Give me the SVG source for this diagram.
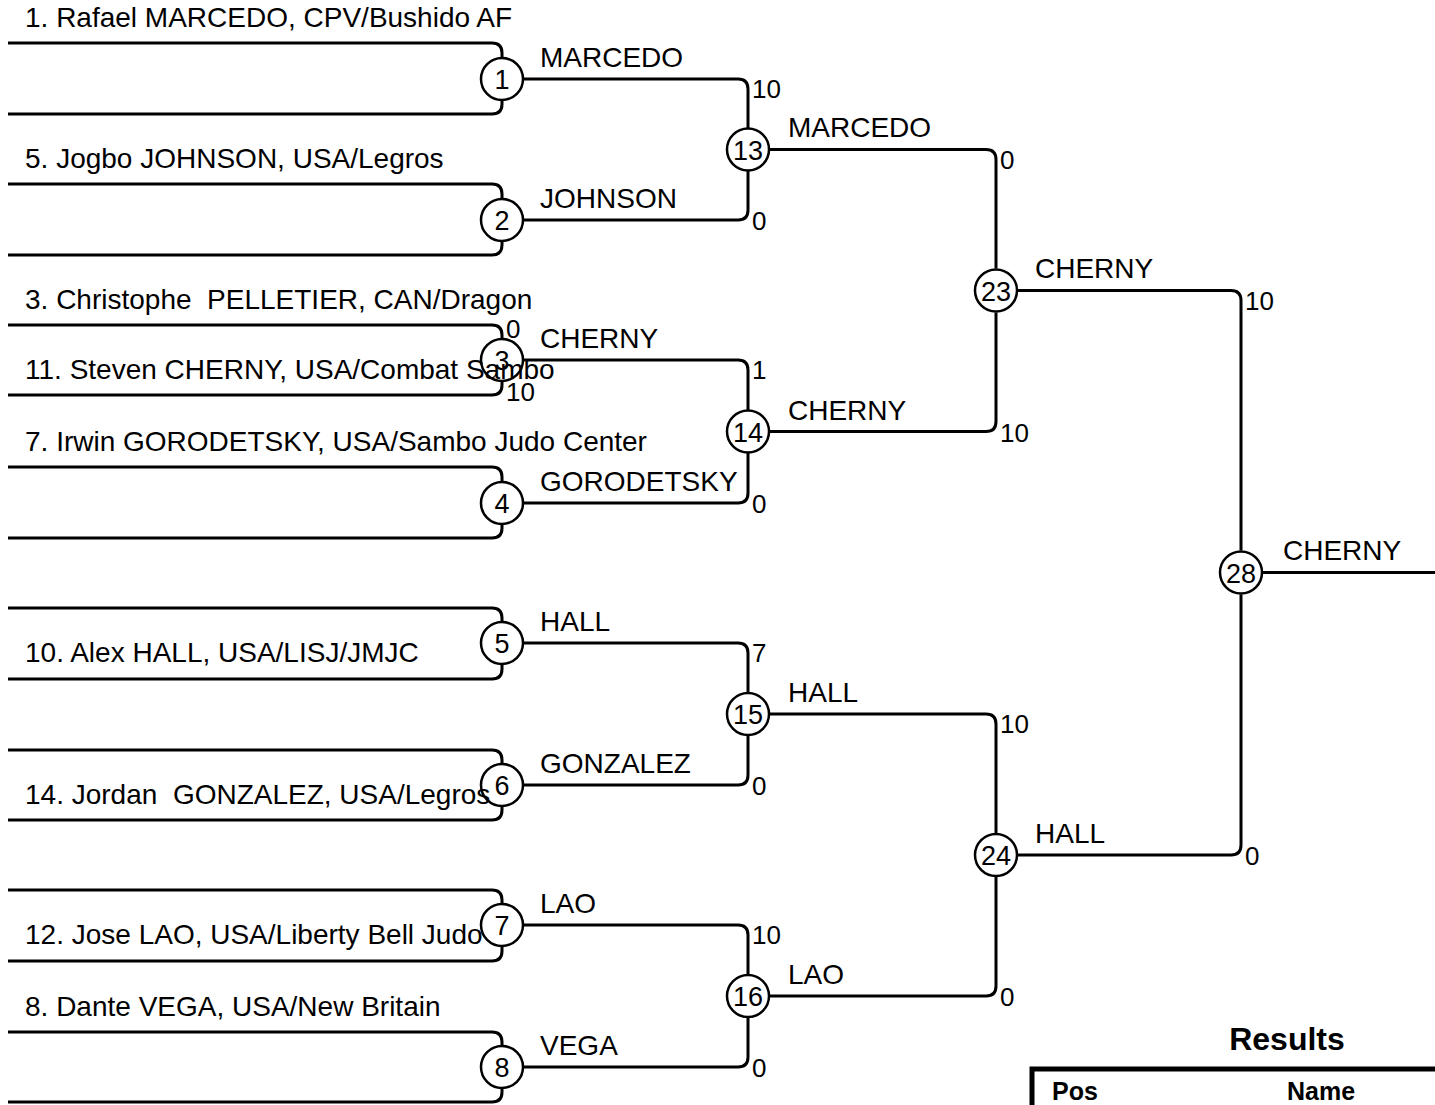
<svg xmlns="http://www.w3.org/2000/svg" width="1435" height="1105" viewBox="0 0 1435 1105">
<style>
text{font-family:"Liberation Sans",Arial,sans-serif;fill:#000;white-space:pre}
.nm{font-size:28px}
.wl{font-size:28px}
.sc{font-size:26px}
.cn{font-size:27px;text-anchor:middle}
.ln{fill:none;stroke:#000;stroke-width:3}
.c{fill:none;stroke:#000;stroke-width:2.5}
.hd{font-size:32px;font-weight:bold}
.th{font-size:25px;font-weight:bold}
</style>
<rect width="1435" height="1105" fill="#fff"/>
<g id="players">
<text class="nm" x="25" y="27">1. Rafael MARCEDO, CPV/Bushido AF</text>
<text class="nm" x="25" y="168">5. Jogbo JOHNSON, USA/Legros</text>
<text class="nm" x="25" y="309">3. Christophe  PELLETIER, CAN/Dragon</text>
<text class="nm" x="25" y="379">11. Steven CHERNY, USA/Combat Sambo</text>
<text class="nm" x="25" y="451">7. Irwin GORODETSKY, USA/Sambo Judo Center</text>
<text class="nm" x="25" y="662">10. Alex HALL, USA/LISJ/JMJC</text>
<text class="nm" x="25" y="804">14. Jordan  GONZALEZ, USA/Legros</text>
<text class="nm" x="25" y="944">12. Jose LAO, USA/Liberty Bell Judo</text>
<text class="nm" x="25" y="1016">8. Dante VEGA, USA/New Britain</text>
</g>
<g id="connectors">
<path class="ln" d="M8,43 H492 Q502,43 502,53 V58 M8,114 H492 Q502,114 502,104 V100"/>
<path class="ln" d="M8,184 H492 Q502,184 502,194 V199 M8,255 H492 Q502,255 502,245 V241"/>
<path class="ln" d="M8,325 H492 Q502,325 502,335 V339 M8,395 H492 Q502,395 502,385 V381"/>
<path class="ln" d="M8,467 H492 Q502,467 502,477 V482 M8,538 H492 Q502,538 502,528 V524"/>
<path class="ln" d="M8,608 H492 Q502,608 502,618 V622 M8,679 H492 Q502,679 502,669 V664"/>
<path class="ln" d="M8,750 H492 Q502,750 502,760 V764 M8,820 H492 Q502,820 502,810 V806"/>
<path class="ln" d="M8,890 H492 Q502,890 502,900 V904 M8,961 H492 Q502,961 502,951 V946"/>
<path class="ln" d="M8,1032 H492 Q502,1032 502,1042 V1046 M8,1102 H492 Q502,1102 502,1092 V1088"/>
<path class="ln" d="M523,79 H738 Q748,79 748,89 V128"/>
<path class="ln" d="M523,220 H738 Q748,220 748,210 V171"/>
<path class="ln" d="M523,360 H738 Q748,360 748,370 V410"/>
<path class="ln" d="M523,503 H738 Q748,503 748,493 V453"/>
<path class="ln" d="M523,643 H738 Q748,643 748,653 V692"/>
<path class="ln" d="M523,785 H738 Q748,785 748,775 V736"/>
<path class="ln" d="M523,925 H738 Q748,925 748,935 V974"/>
<path class="ln" d="M523,1067 H738 Q748,1067 748,1057 V1018"/>
<path class="ln" d="M769,149.5 H986 Q996,149.5 996,159.5 V268.5"/>
<path class="ln" d="M769,431.5 H986 Q996,431.5 996,421.5 V312.5"/>
<path class="ln" d="M769,714 H986 Q996,714 996,724 V833"/>
<path class="ln" d="M769,996 H986 Q996,996 996,986 V877"/>
<path class="ln" d="M1017,290.5 H1231 Q1241,290.5 1241,300.5 V550.5"/>
<path class="ln" d="M1017,855 H1231 Q1241,855 1241,845 V594.5"/>
<path class="ln" d="M1262,572.5 H1435"/>
</g>
<g id="m1"><circle class="c" cx="502" cy="79" r="21"/><text class="cn" x="502" y="89">1</text><text class="wl" x="540" y="67">MARCEDO</text></g>
<g id="m2"><circle class="c" cx="502" cy="220" r="21"/><text class="cn" x="502" y="230">2</text><text class="wl" x="540" y="208">JOHNSON</text></g>
<g id="m3"><circle class="c" cx="502" cy="360" r="21"/><text class="cn" x="502" y="370">3</text><text class="wl" x="540" y="348">CHERNY</text><text class="sc" x="506" y="338">0</text><text class="sc" x="506" y="401">10</text></g>
<g id="m4"><circle class="c" cx="502" cy="503" r="21"/><text class="cn" x="502" y="513">4</text><text class="wl" x="540" y="491">GORODETSKY</text></g>
<g id="m5"><circle class="c" cx="502" cy="643" r="21"/><text class="cn" x="502" y="653">5</text><text class="wl" x="540" y="631">HALL</text></g>
<g id="m6"><circle class="c" cx="502" cy="785" r="21"/><text class="cn" x="502" y="795">6</text><text class="wl" x="540" y="773">GONZALEZ</text></g>
<g id="m7"><circle class="c" cx="502" cy="925" r="21"/><text class="cn" x="502" y="935">7</text><text class="wl" x="540" y="913">LAO</text></g>
<g id="m8"><circle class="c" cx="502" cy="1067" r="21"/><text class="cn" x="502" y="1077">8</text><text class="wl" x="540" y="1055">VEGA</text></g>
<g id="m13"><circle class="c" cx="748" cy="149.5" r="21"/><text class="cn" x="748" y="159.5">13</text><text class="wl" x="788" y="137">MARCEDO</text><text class="sc" x="752" y="98">10</text><text class="sc" x="752" y="230">0</text></g>
<g id="m14"><circle class="c" cx="748" cy="431.5" r="21"/><text class="cn" x="748" y="441.5">14</text><text class="wl" x="788" y="420">CHERNY</text><text class="sc" x="752" y="379">1</text><text class="sc" x="752" y="513">0</text></g>
<g id="m15"><circle class="c" cx="748" cy="714" r="21"/><text class="cn" x="748" y="724">15</text><text class="wl" x="788" y="702">HALL</text><text class="sc" x="752" y="662">7</text><text class="sc" x="752" y="795">0</text></g>
<g id="m16"><circle class="c" cx="748" cy="996" r="21"/><text class="cn" x="748" y="1006">16</text><text class="wl" x="788" y="984">LAO</text><text class="sc" x="752" y="944">10</text><text class="sc" x="752" y="1077">0</text></g>
<g id="m23"><circle class="c" cx="996" cy="290.5" r="21"/><text class="cn" x="996" y="300.5">23</text><text class="wl" x="1035" y="278">CHERNY</text><text class="sc" x="1000" y="168.5">0</text><text class="sc" x="1000" y="441.5">10</text></g>
<g id="m24"><circle class="c" cx="996" cy="855" r="21"/><text class="cn" x="996" y="865">24</text><text class="wl" x="1035" y="843">HALL</text><text class="sc" x="1000" y="733">10</text><text class="sc" x="1000" y="1006">0</text></g>
<g id="m28"><circle class="c" cx="1241" cy="572.5" r="21"/><text class="cn" x="1241" y="582.5">28</text><text class="wl" x="1283" y="560">CHERNY</text><text class="sc" x="1245" y="309.5">10</text><text class="sc" x="1245" y="865">0</text></g>
<g id="results">
<text class="hd" x="1287" y="1050" text-anchor="middle">Results</text>
<path d="M1032,1110 V1069 H1440" fill="none" stroke="#000" stroke-width="5"/>
<text class="th" x="1052" y="1100">Pos</text>
<text class="th" x="1287" y="1100">Name</text>
</g>
</svg>
